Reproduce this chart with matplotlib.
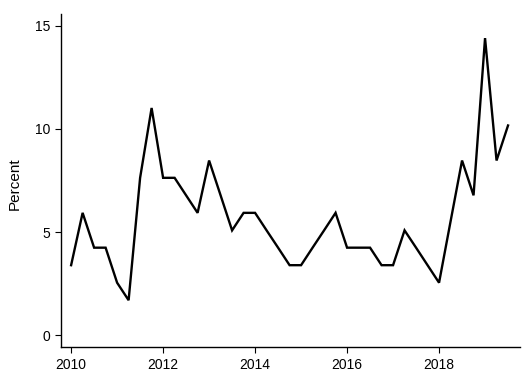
import matplotlib
matplotlib.use("Agg")
import matplotlib.pyplot as plt
import numpy as np

# quarterly observations starting 2010 Q1
start_year = 2010.0
values = [3.39, 5.93, 4.24, 4.24, 2.54, 1.69, 7.63, 11.02,
          7.63, 7.63, 6.78, 5.93, 8.47, 6.78, 5.08, 5.93,
          5.93, 5.08, 4.24, 3.39, 3.39, 4.24, 5.08, 5.93,
          4.24, 4.24, 4.24, 3.39, 3.39, 5.08, 4.24, 3.39,
          2.54, 5.51, 8.47, 6.78, 14.41, 8.47, 10.17]
years = [start_year + 0.25 * i for i in range(len(values))]
x_ticks = [2010, 2012, 2014, 2016, 2018]
y_ticks = [0, 5, 10, 15]
y_label = "Percent"

plt.rcParams['font.family'] = ['Liberation Sans', 'DejaVu Sans']

fig = plt.figure(figsize=(5.3, 3.8), dpi=100)
ax = fig.add_axes([61/530, 1 - 347/380, (520-61)/530, (347-14)/380])
ax.plot(years, values, color='black', lw=1.7, solid_joinstyle='miter')

ax.set_xlim(2009.78, 2019.76)
ax.set_ylim(-0.58, 15.58)
ax.set_xticks(x_ticks)
ax.set_yticks(y_ticks)
ax.set_xticklabels([str(t) for t in x_ticks])
ax.set_yticklabels([str(t) for t in y_ticks])
ax.tick_params(direction='out', length=4.5, width=0.8, labelsize=10, pad=3.5)
ax.spines['top'].set_visible(False)
ax.spines['right'].set_visible(False)
ax.spines['left'].set_linewidth(1.0)
ax.spines['bottom'].set_linewidth(1.0)
ax.set_ylabel(y_label, fontsize=11)
ax.yaxis.set_label_coords(-0.085, 0.49)

fig.savefig("out.png", dpi=100)
